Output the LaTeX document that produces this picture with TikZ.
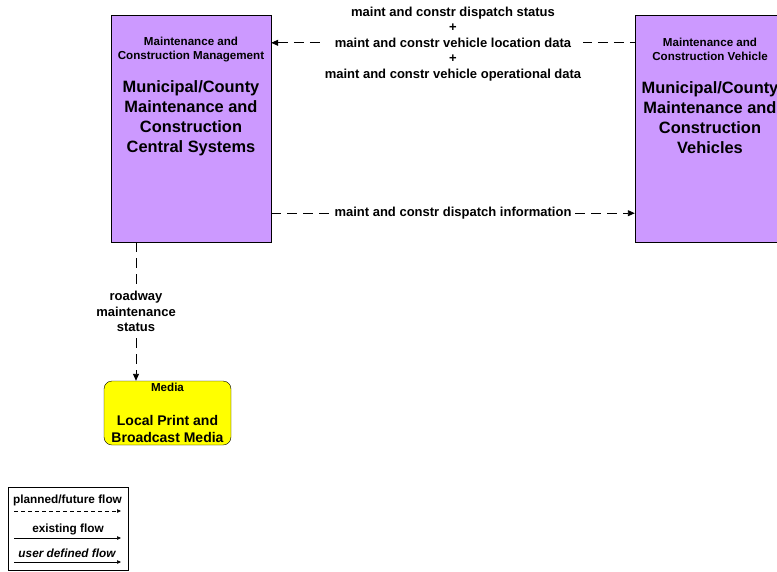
\documentclass[tikz,border=0pt]{standalone}
\usepackage{fontspec}
\setmainfont{Liberation Sans}
\usetikzlibrary{positioning,arrows.meta}
\definecolor{mcpurple}{RGB}{204,153,255}
\definecolor{mcyellow}{RGB}{255,255,0}

\begin{document}
\begin{tikzpicture}[x=1pt,y=-1pt,>={Triangle[length=7pt,width=6pt]},
  sys/.style={draw,fill=mcpurple,minimum width=160pt,minimum height=227pt,inner sep=0pt},
  ext/.style={draw,fill=mcyellow,rounded corners=8pt,minimum width=127pt,minimum height=64pt,inner sep=0pt},
  hdr/.style={align=center,inner sep=0pt,font=\fontsize{11.6}{14}\selectfont\bfseries},
  ttl/.style={align=center,inner sep=0pt,font=\fontsize{16.4}{20}\selectfont\bfseries},
  mttl/.style={align=center,inner sep=0pt,font=\fontsize{14}{17}\selectfont\bfseries},
  flab/.style={align=center,fill=white,inner sep=2pt,font=\fontsize{13}{15.5}\selectfont\bfseries},
  flow/.style={line width=0.9pt,dash pattern=on 10pt off 6pt},
  leg/.style={align=center,inner sep=0pt,font=\fontsize{11.8}{13}\selectfont\bfseries}]
  \useasboundingbox (0,0) rectangle (777,571);
  % systems
  \node[sys] (mcms) at (191,128.5) {};
  \node[hdr] (mcmshdr) at ([yshift=-35pt]mcms.north) {Maintenance and\\Construction Management};
  \node[ttl] (mcmsttl) at ([yshift=-103pt]mcms.north) {Municipal/County\\Maintenance and\\Construction\\Central Systems};
  \node[sys,minimum width=150pt] (mcv) at (710,128.5) {};
  \node[hdr] (mcvhdr) at ([yshift=-35pt]mcv.north) {Maintenance and\\Construction Vehicle};
  \node[ttl] (mcvttl) at ([yshift=-103pt]mcv.north) {Municipal/County\\Maintenance and\\Construction\\Vehicles};
  \node[ext] (media) at (167.5,413) {};
  \node[hdr] (mediahdr) at ([yshift=-7pt]media.north) {Media};
  \node[mttl] (mediattl) at ([yshift=-48pt]media.north) {Local Print and\\Broadcast Media};
  % flows
  \draw[flow,<-] ([yshift=-28pt]mcms.north east) -- node[flab,yshift=-1pt] (f1) {maint and constr dispatch status\\+\\maint and constr vehicle location data\\+\\maint and constr vehicle operational data} ([yshift=-28pt]mcv.north west);
  \draw[flow,->] ([yshift=29pt]mcms.south east) -- node[flab] (f2) {maint and constr dispatch information} ([yshift=29pt]mcv.south west);
  \draw[flow,->] ([xshift=-55pt]mcms.south) -- node[flab] (f3) {roadway\\maintenance\\status} ([xshift=-31.5pt]media.north);
  % legend
  \node[draw,line width=0.6pt,minimum width=120pt,minimum height=83pt,inner sep=0pt] (legend) at (68,528.5) {};
  \node[leg] (lg1) at (67.5,500) {planned/future flow};
  \node[leg] (lg2) at (68,529) {existing flow};
  \node[leg,font=\fontsize{11.8}{13}\selectfont\bfseries\itshape] (lg3) at (67,553) {user defined flow};
  \coordinate (lg1a) at (14,511); \coordinate (lg1b) at (121,511);
  \coordinate (lg2a) at (14,538); \coordinate (lg2b) at (121,538);
  \coordinate (lg3a) at (14,562); \coordinate (lg3b) at (121,562);
  \draw[->,line width=0.6pt,dash pattern=on 4pt off 3pt,>={Triangle[length=4pt,width=3.5pt]}] (lg1a) -- (lg1b);
  \draw[->,line width=0.6pt,>={Triangle[length=4pt,width=3.5pt]}] (lg2a) -- (lg2b);
  \draw[->,line width=0.6pt,>={Triangle[length=4pt,width=3.5pt]}] (lg3a) -- (lg3b);
\end{tikzpicture}
\end{document}
